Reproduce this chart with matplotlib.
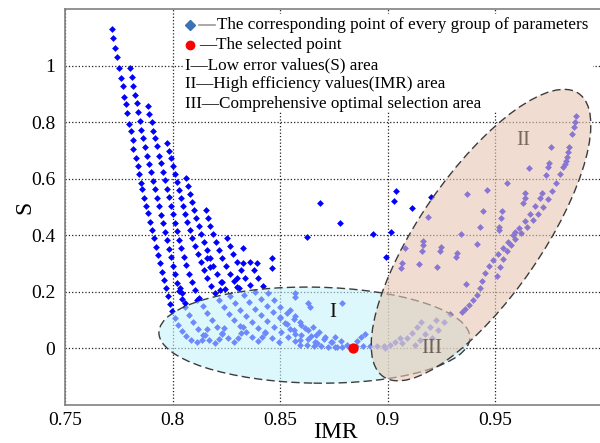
import matplotlib
matplotlib.use('Agg')
from matplotlib import pyplot as plt
from matplotlib.patches import Ellipse, Rectangle
from matplotlib.transforms import Affine2D

plt.rcParams['font.family'] = ['Liberation Serif', 'DejaVu Serif']

# parameter groups (IMR, S)
chain_a_x = [0.7719, 0.7723, 0.7733, 0.7742, 0.7751, 0.7760, 0.7770, 0.7774, 0.7784, 0.7788, 0.7798, 0.7807,
             0.7816, 0.7816, 0.7830, 0.7840, 0.7844, 0.7853, 0.7858, 0.7867, 0.7877, 0.7886, 0.7895, 0.7905,
             0.7914, 0.7923, 0.7933, 0.7942, 0.7951, 0.7960, 0.7970, 0.7979, 0.7988, 0.7998,
             0.8012, 0.8026, 0.8044, 0.8063, 0.8086, 0.8114, 0.8137, 0.8151, 0.8160]
chain_a_y = [1.129, 1.097, 1.062, 1.030, 0.991, 0.955, 0.927, 0.888, 0.864, 0.832, 0.793, 0.768,
             0.736, 0.705, 0.673, 0.645, 0.616, 0.585, 0.563, 0.531, 0.503, 0.479, 0.447, 0.419,
             0.390, 0.359, 0.330, 0.302, 0.270, 0.242, 0.213, 0.185, 0.157, 0.132,
             0.107, 0.083, 0.061, 0.044, 0.030, 0.023, 0.030, 0.047, 0.069]

chain_b_x = [0.7802, 0.7812, 0.7816, 0.7826, 0.7835, 0.7840, 0.7849, 0.7853, 0.7863, 0.7872, 0.7881, 0.7891,
             0.7900, 0.7909, 0.7919, 0.7928, 0.7937, 0.7947, 0.7956, 0.7965, 0.7974, 0.7984, 0.7993, 0.8002,
             0.8012, 0.8021, 0.8030, 0.8044, 0.8058, 0.8077, 0.8095, 0.8119, 0.8142, 0.8170, 0.8198,
             0.8216, 0.8230, 0.8240]
chain_b_y = [0.991, 0.959, 0.927, 0.895, 0.867, 0.835, 0.804, 0.772, 0.743, 0.712, 0.680, 0.652,
             0.624, 0.592, 0.564, 0.532, 0.503, 0.472, 0.443, 0.411, 0.383, 0.351, 0.323, 0.291,
             0.263, 0.231, 0.203, 0.175, 0.147, 0.118, 0.093, 0.069, 0.048, 0.030, 0.019,
             0.033, 0.051, 0.072]

chain_c_x = [0.7886, 0.7891, 0.7905, 0.7909, 0.7919, 0.7928, 0.7937, 0.7947, 0.7956, 0.7965, 0.7974, 0.7984,
             0.7993, 0.8002, 0.8012, 0.8021, 0.8030, 0.8040, 0.8053, 0.8063, 0.8077, 0.8091, 0.8105, 0.8123,
             0.8142, 0.8160, 0.8184, 0.8207, 0.8230, 0.8258, 0.8286, 0.8305, 0.8319, 0.8328]
chain_c_y = [0.857, 0.828, 0.800, 0.768, 0.743, 0.715, 0.680, 0.655, 0.624, 0.595, 0.563, 0.535,
             0.503, 0.475, 0.443, 0.415, 0.383, 0.355, 0.323, 0.295, 0.263, 0.235, 0.206, 0.178,
             0.150, 0.125, 0.100, 0.076, 0.054, 0.037, 0.023, 0.037, 0.054, 0.076]

chain_d_x = [0.7974, 0.7984, 0.7993, 0.8002, 0.8012, 0.8021, 0.8030, 0.8040, 0.8049, 0.8058, 0.8067, 0.8081,
             0.8091, 0.8105, 0.8119, 0.8133, 0.8147, 0.8160, 0.8179, 0.8198, 0.8216, 0.8240, 0.8263, 0.8286,
             0.8314, 0.8342, 0.8370, 0.8398, 0.8416, 0.8430]
chain_d_y = [0.726, 0.697, 0.673, 0.645, 0.616, 0.588, 0.560, 0.531, 0.503, 0.475, 0.447, 0.419,
             0.390, 0.362, 0.334, 0.305, 0.277, 0.249, 0.221, 0.196, 0.171, 0.146, 0.122, 0.100,
             0.079, 0.058, 0.040, 0.026, 0.040, 0.058]

chain_e_x = [0.8063, 0.8072, 0.8081, 0.8091, 0.8100, 0.8109, 0.8123, 0.8133, 0.8147, 0.8160, 0.8174, 0.8188,
             0.8207, 0.8226, 0.8244, 0.8267, 0.8291, 0.8314, 0.8342, 0.8370, 0.8398, 0.8430, 0.8463, 0.8495]
chain_e_y = [0.602, 0.574, 0.546, 0.517, 0.489, 0.461, 0.433, 0.404, 0.376, 0.348, 0.319, 0.291,
             0.263, 0.235, 0.210, 0.185, 0.160, 0.136, 0.114, 0.093, 0.072, 0.054, 0.037, 0.023]

chain_f_x = [0.8156, 0.8165, 0.8174, 0.8188, 0.8202, 0.8216, 0.8230, 0.8249, 0.8267, 0.8286, 0.8309, 0.8333,
             0.8356, 0.8384, 0.8412, 0.8440, 0.8472, 0.8505, 0.8537, 0.8570]
chain_f_y = [0.489, 0.461, 0.433, 0.404, 0.376, 0.348, 0.319, 0.291, 0.263, 0.238, 0.213, 0.189,
             0.164, 0.139, 0.118, 0.097, 0.076, 0.058, 0.040, 0.026]

chain_g_x = [0.8253, 0.8267, 0.8281, 0.8300, 0.8319, 0.8337, 0.8360, 0.8384, 0.8412, 0.8440, 0.8467, 0.8500,
             0.8533, 0.8565, 0.8598, 0.8630, 0.8663]
chain_g_y = [0.390, 0.362, 0.334, 0.305, 0.277, 0.249, 0.224, 0.199, 0.175, 0.150, 0.128, 0.107,
             0.086, 0.065, 0.047, 0.033, 0.023]

chain_h_x = [0.8360, 0.8379, 0.8398, 0.8421, 0.8444, 0.8472, 0.8500, 0.8533, 0.8565, 0.8598, 0.8630, 0.8667,
             0.8705, 0.8742]
chain_h_y = [0.305, 0.277, 0.249, 0.221, 0.196, 0.171, 0.146, 0.125, 0.104, 0.083, 0.065, 0.047,
             0.033, 0.023]

inner_x = [0.8500, 0.8523, 0.8547, 0.8570, 0.8593, 0.8547, 0.8570, 0.8593, 0.8616, 0.8644, 0.8672,
           0.8653, 0.8681, 0.8709, 0.8737, 0.8765, 0.8756, 0.8784, 0.8812, 0.8858, 0.8877, 0.8895,
           0.8570, 0.8570, 0.8630, 0.8640, 0.8788]
inner_y = [0.111, 0.090, 0.069, 0.051, 0.030, 0.136, 0.114, 0.093, 0.072, 0.044, 0.019,
           0.076, 0.058, 0.040, 0.023, 0.005, 0.040, 0.026, 0.012, 0.026, 0.040, 0.051,
           0.196, 0.182, 0.160, 0.146, 0.160]

base_x = [0.8593, 0.8626, 0.8658, 0.8691, 0.8723, 0.8756, 0.8788, 0.8821, 0.8853, 0.8886, 0.8919, 0.8951, 0.8984]
base_y = [0.012, 0.012, 0.008, 0.008, 0.005, 0.005, 0.005, 0.005, 0.008, 0.008, 0.008, 0.008, 0.008]

loose_x = [0.8035, 0.8044, 0.8058, 0.8114, 0.8160, 0.8174, 0.8230, 0.8221, 0.8300, 0.8300, 0.8328, 0.8328,
           0.8393, 0.8463, 0.8463, 0.8686, 0.8779, 0.8626, 0.8933, 0.9040, 0.9030, 0.9114, 0.9202, 0.9016,
           0.8993]
loose_y = [0.213, 0.196, 0.160, 0.171, 0.320, 0.288, 0.235, 0.206, 0.249, 0.217, 0.355, 0.302,
           0.302, 0.320, 0.284, 0.514, 0.443, 0.394, 0.404, 0.556, 0.521, 0.496, 0.535, 0.411,
           0.323]

right_top_x = [0.9877, 0.9872, 0.9867, 0.9858, 0.9844, 0.9840, 0.9835, 0.9830, 0.9826, 0.9816, 0.9802, 0.9784,
               0.9765, 0.9747, 0.9723, 0.9700, 0.9677, 0.9649, 0.9621, 0.9593, 0.9574, 0.9556, 0.9537, 0.9523,
               0.9509]
right_top_y = [0.821, 0.800, 0.782, 0.757, 0.712, 0.694, 0.676, 0.662, 0.652, 0.641, 0.616, 0.584,
               0.556, 0.527, 0.499, 0.475, 0.453, 0.429, 0.407, 0.386, 0.365, 0.343, 0.315, 0.287,
               0.255]
right_low_x = [0.9760, 0.9751, 0.9747, 0.9737, 0.9719, 0.9709, 0.9686, 0.9663, 0.9640, 0.9612, 0.9584, 0.9560,
               0.9537, 0.9514, 0.9491, 0.9472, 0.9453, 0.9440, 0.9430, 0.9416, 0.9398, 0.9380, 0.9360, 0.9347]
right_low_y = [0.712, 0.655, 0.641, 0.613, 0.549, 0.531, 0.503, 0.475, 0.450, 0.425, 0.401, 0.378,
               0.355, 0.333, 0.313, 0.290, 0.265, 0.240, 0.213, 0.190, 0.170, 0.152, 0.138, 0.129]

area2_x = [0.9463, 0.9370, 0.9444, 0.9533, 0.9528, 0.9430, 0.9519, 0.9519, 0.9342, 0.9593, 0.9165, 0.9165,
           0.9160, 0.9249, 0.9244, 0.9416, 0.9081, 0.9323, 0.9319, 0.9067, 0.9063, 0.9147, 0.9230, 0.9365,
           0.9630, 0.9640, 0.9640, 0.9658, 0.9556, 0.9188]
area2_y = [0.560, 0.546, 0.486, 0.486, 0.461, 0.429, 0.429, 0.418, 0.404, 0.411, 0.380, 0.365,
           0.344, 0.358, 0.344, 0.369, 0.355, 0.337, 0.323, 0.302, 0.284, 0.298, 0.288, 0.228,
           0.514, 0.532, 0.549, 0.638, 0.585, 0.464]

area3_x = [0.8988, 0.9011, 0.9035, 0.9058, 0.9067, 0.9091, 0.9114, 0.9137, 0.9156, 0.9128, 0.9151, 0.9174,
           0.9197, 0.9225, 0.9207, 0.9235, 0.9263, 0.9291]
area3_y = [0.001, 0.012, 0.023, 0.037, 0.019, 0.037, 0.054, 0.076, 0.093, 0.012, 0.030, 0.051,
           0.076, 0.100, 0.037, 0.065, 0.093, 0.122]

selected = (0.8839, 0.0)

xticks = [0.75, 0.8, 0.85, 0.9, 0.95]
xtick_labels = ['0.75', '0.8', '0.85', '0.9', '0.95']
yticks = [0, 0.2, 0.4, 0.6, 0.8, 1.0]
ytick_labels = ['0', '0.2', '0.4', '0.6', '0.8', '1']

legend_texts = ['The corresponding point of every group of parameters',
                '\u2014The selected point',
                'I\u2014Low error values(S) area',
                'II\u2014High efficiency values(IMR) area',
                'III\u2014Comprehensive optimal selection area']

fig = plt.figure(figsize=(6, 4.43), dpi=100)
ax = fig.add_axes([65 / 600, 1 - 405 / 443, 537.5 / 600, 396 / 443])
ax.set_xlim(0.75, 1.0)
ax.set_ylim(-0.2, 1.2)

groups = [(chain_a_x, chain_a_y), (chain_b_x, chain_b_y), (chain_c_x, chain_c_y), (chain_d_x, chain_d_y),
          (chain_e_x, chain_e_y), (chain_f_x, chain_f_y), (chain_g_x, chain_g_y), (chain_h_x, chain_h_y),
          (inner_x, inner_y), (base_x, base_y), (loose_x, loose_y), (right_top_x, right_top_y),
          (right_low_x, right_low_y), (area2_x, area2_y), (area3_x, area3_y)]
for gx, gy in groups:
    ax.scatter(gx, gy, marker='D', s=12, color='#0000ff', linewidths=0, zorder=2)

# ellipses are sized in screen pixels so the tilt looks right
bb = ax.get_position()
sx = bb.width * fig.get_figwidth() * fig.dpi / 0.25
sy = bb.height * fig.get_figheight() * fig.dpi / 1.4

def area(cx, cy, w, h, ang, face, alpha):
    tr = Affine2D().scale(1 / sx, 1 / sy).translate(cx, cy) + ax.transData
    ax.add_patch(Ellipse((0, 0), w, h, angle=ang, transform=tr, facecolor=face,
                         edgecolor='none', alpha=alpha, zorder=3))
    ax.add_patch(Ellipse((0, 0), w, h, angle=ang, transform=tr, fill=False,
                         edgecolor='#3c3c3c', linewidth=1.0, linestyle=(0, (6, 3)), zorder=3))

area(0.866, 0.047, 311, 96, -1, '#c2f3fa', 0.57)
area(0.9435, 0.4007, 344, 122, 55.4, '#e6c6b1', 0.6)

ax.scatter([selected[0]], [selected[1]], s=55, color='#ff0000', linewidths=0, zorder=6)

ax.text(0.8746, 0.128, 'I', fontsize=15, color='#111111', ha='center', va='center', zorder=5)
ax.text(0.9630, 0.7365, 'II', fontsize=15, color='#7a6b62', ha='center', va='center', zorder=5)
ax.text(0.9207, 0.0, 'III', fontsize=15, color='#6e6258', ha='center', va='center', zorder=5)

ax.set_xticks(xticks)
ax.set_xticklabels(xtick_labels)
ax.set_yticks(yticks)
ax.set_yticklabels(ytick_labels)
ax.tick_params(length=0, labelsize=14)
ax.tick_params(axis='y', pad=7)
ax.tick_params(axis='x', pad=5)
ax.grid(True, color='#222222', linestyle=':', linewidth=0.9)
ax.set_axisbelow(True)
for side in ['left', 'bottom', 'top']:
    ax.spines[side].set_color('#808080')
    ax.spines[side].set_linewidth(1.2)
ax.spines['right'].set_visible(False)

fig.text(335 / 600, 1 - 432 / 443, 'IMR', fontsize=17, ha='center', va='center')
fig.text(25 / 600, 1 - 207 / 443, 'S', fontsize=17, rotation=90, ha='center', va='center')

# legend block, drawn by hand; it hides the grid but sits under the areas
ax.add_patch(Rectangle((0.2195, 0.740), 0.762, 0.247, transform=ax.transAxes,
                       facecolor='white', edgecolor='none', zorder=1.5))
rows = [0.9596, 0.909, 0.8586, 0.8106, 0.760]
ax.plot([0.2326], [rows[0]], marker='D', markersize=5, color='#3b74b4', transform=ax.transAxes, zorder=8)
ax.plot([0.2493, 0.279], [rows[0], rows[0]], color='#9a9a9a', linewidth=1.2, transform=ax.transAxes, zorder=8)
ax.plot([0.2326], [rows[1]], marker='o', markersize=6, color='#ff0000', transform=ax.transAxes, zorder=8)
ax.text(0.2828, rows[0], legend_texts[0], fontsize=12.3, transform=ax.transAxes, va='center', zorder=9)
ax.text(0.2493, rows[1], legend_texts[1], fontsize=12.3, transform=ax.transAxes, va='center', zorder=9)
for r, t in zip(rows[2:], legend_texts[2:]):
    ax.text(0.2233, r, t, fontsize=12.3, transform=ax.transAxes, va='center', zorder=9)

fig.savefig('out.png', dpi=100)
